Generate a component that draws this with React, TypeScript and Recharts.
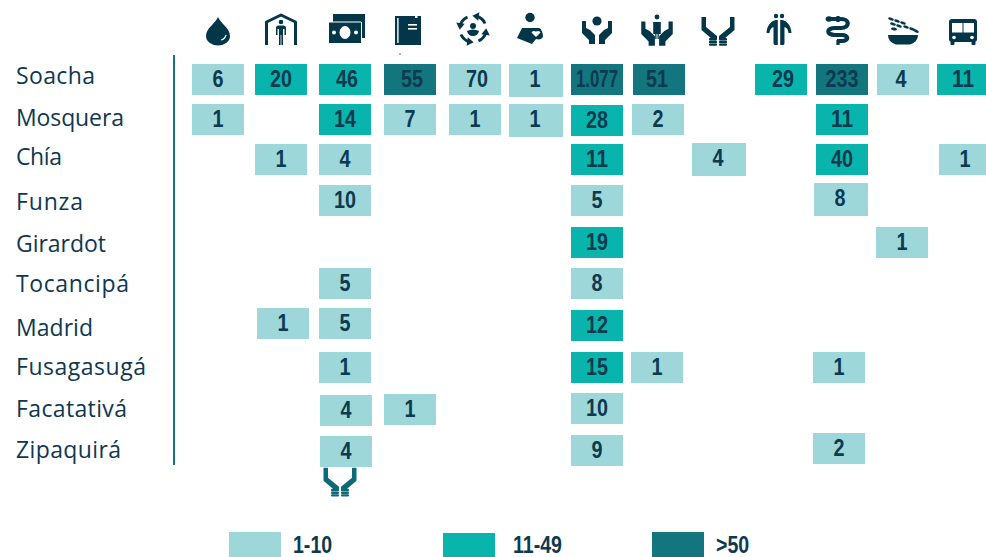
import { Legend, ReferenceDot, Scatter, ScatterChart, XAxis, YAxis } from "recharts";

const ROWS = ["Soacha", "Mosquera", "Chía", "Funza", "Girardot", "Tocancipá", "Madrid", "Fusagasugá", "Facatativá", "Zipaquirá"];
const COLUMNS = ["water", "shelter", "money", "book", "cycle", "mother", "care", "protect", "hands", "people", "health", "food", "bus"];

const SOACHA = [6, 20, 46, 55, 70, 1, 1077, 51, null, 29, 233, 4, 11];
const MOSQUERA = [1, null, 14, 7, 1, 1, 28, 2, null, null, 11, null, null];
const CHIA = [null, 1, 4, null, null, null, 11, null, 4, null, 40, null, 1];
const FUNZA = [null, null, 10, null, null, null, 5, null, null, null, 8, null, null];
const GIRARDOT = [null, null, null, null, null, null, 19, null, null, null, null, 1, null];
const TOCANCIPA = [null, null, 5, null, null, null, 8, null, null, null, null, null, null];
const MADRID = [null, 1, 5, null, null, null, 12, null, null, null, null, null, null];
const FUSAGASUGA = [null, null, 1, null, null, null, 15, 1, null, null, 1, null, null];
const FACATATIVA = [null, null, 4, 1, null, null, 10, null, null, null, null, null, null];
const ZIPAQUIRA = [null, null, 4, null, null, null, 9, null, null, null, 2, null, null];
const VALUES = [SOACHA, MOSQUERA, CHIA, FUNZA, GIRARDOT, TOCANCIPA, MADRID, FUSAGASUGA, FACATATIVA, ZIPAQUIRA];

const LEGEND_LABELS = ["1-10", "11-49", ">50"];
// the source paints Soacha's 70 in the lowest band
const LOW_BAND_EXCEPTIONS = [70];

// hand-placed layout of the source, px away from the even grid
const COLUMN_NUDGE = [0, 1, 3, 6, 9, 8, 7, 7, 4, 5, 4, 3, 1];
const ROW_NUDGE = [0, -1, -2, -2, -1, -1, -2, 1, 2, 3];
const LABEL_BASELINE = [4, 5, 3, 7, 8, 7, 10, 8, 9, 9];
const LABEL_WIDTH = [79, 108, 46, 67, 90, 113, 77, 130, 111, 105];
const CELL_TWEAKS: Record<string, { dx?: number; dy?: number; w?: number; h?: number; tx?: number }> = {
  "0-2": { tx: 2 },
  "0-3": { tx: 2 },
  "0-4": { tx: 2 },
  "0-5": { dx: -1, w: 54, h: 33 },
  "0-7": { tx: -2 },
  "0-9": { tx: 2 },
  "0-11": { tx: -2 },
  "1-5": { dx: -1, w: 54, h: 33 },
  "1-6": { dy: 1 },
  "1-7": { dx: -1 },
  "2-8": { w: 54, h: 33, dy: -1 },
  "2-12": { dx: 2 },
  "3-10": { dx: -2, dy: -2, w: 54, h: 33 },
  "4-11": { dx: -1 },
  "6-1": { dx: 2 },
  "6-6": { dy: 2 },
  "7-7": { dx: -2 },
  "7-10": { dx: -3 },
  "8-2": { dx: 1, dy: 1 },
  "8-6": { dy: -1 },
  "9-2": { dx: 1 },
  "9-6": { dy: -1 },
  "9-10": { dx: -3, dy: -3 },
};

const LIGHT = "#9dd7d9";
const TEAL = "#09b4ac";
const DARK = "#13767f";
const TEXT = "#0c3a4f";
const ICON = "#04364a";
const VALUE_FONT = "'Liberation Sans', sans-serif";

function band(v: number) {
  if (v <= 10 || LOW_BAND_EXCEPTIONS.includes(v)) return 0;
  return v < 50 ? 1 : 2;
}

const cells = VALUES.flatMap((row, y) =>
  row.flatMap((value, x) => (value === null ? [] : [{ x, y, value }]))
);

function fmt(v: number) {
  return v >= 1000 ? `${Math.floor(v / 1000)}.${String(v % 1000).padStart(3, "0")}` : String(v);
}

function Cell({ cx, cy, payload, fill }: any) {
  const t = CELL_TWEAKS[`${payload.y}-${payload.x}`] ?? {};
  const w = t.w ?? 52;
  const h = t.h ?? 31;
  const mid = Math.round(cx) + COLUMN_NUDGE[payload.x] + (t.dx ?? 0);
  const top = Math.round(cy) + ROW_NUDGE[payload.y] - 16 + (t.dy ?? 0);
  const left = mid - 26;
  const label = fmt(payload.value);
  return (
    <g>
      <rect x={left} y={top} width={w} height={h} fill={fill} />
      <text
        x={left + 26 + (t.tx ?? 0)}
        y={top + 23}
        textAnchor="middle"
        fontFamily={VALUE_FONT}
        fontWeight="bold"
        fontSize={23}
        fill={TEXT}
        textLength={payload.value >= 1000 ? 42 : label.length * 11}
        lengthAdjust="spacingAndGlyphs"
      >
        {label}
      </text>
    </g>
  );
}

function Hand({ flip }: { flip?: boolean }) {
  return (
    <path
      transform={flip ? "scale(-1,1)" : undefined}
      d="M-15 -10 L-11 -10 L-11 -3 L-7 -1 L-2 4 L-2 13 L-8 13 L-8 9 L-15 2 Z"
    />
  );
}

function JoinedHands({ color }: { color: string }) {
  const side = "M-16.5 -14 L-12 -14 L-12 -4 L-1 5 L-1 8 L-6 8 L-16.5 -1 Z";
  return (
    <g fill={color}>
      <path d={side} />
      <path d={side} transform="scale(-1,1)" />
      {[7, 9.8, 12.4].map((y) => (
        <g key={y}>
          <rect x={-9} y={y} width={8} height={2.4} rx={1} />
          <rect x={1} y={y} width={8} height={2.4} rx={1} />
        </g>
      ))}
    </g>
  );
}

const ICONS: Record<string, React.ReactNode> = {
  water: (
    <g>
      <path d="M0 -14 C3 -7 12 -3 12 5 A12 9.5 0 0 1 -12 5 C-12 -3 -3 -7 0 -14 Z" />
      <path d="M3 9 Q7 8 8 4" fill="none" stroke="#fff" strokeWidth={1.2} />
    </g>
  ),
  shelter: (
    <g>
      <path d="M-14.5 14 V-9 L0 -16 L14.5 -9 V14" fill="none" stroke={ICON} strokeWidth={3} strokeLinejoin="round" />
      <circle cx={0} cy={-9} r={2.3} />
      <path d="M-5 4 V-3 Q-5 -5.5 -2.5 -5.5 H2.5 Q5 -5.5 5 -3 V4 H3.5 V-2 H2 V14 H0.4 V4 H-0.4 V14 H-2 V-2 H-3.5 V4 Z" />
    </g>
  ),
  money: (
    <g>
      <path d="M-12 -17 H20 V7 H17 V-9 H-12 Z" />
      <rect x={-16} y={-9} width={32} height={21} />
      <path d="M-16 -9 H16" stroke="#fff" strokeWidth={1} />
      <ellipse cx={0} cy={1.5} rx={5.5} ry={6.5} fill="#fff" />
      <circle cx={-11} cy={1.5} r={2} fill="#fff" />
      <circle cx={11} cy={1.5} r={2} fill="#fff" />
    </g>
  ),
  book: (
    <g>
      <path d="M-15 -15 H5 V-13 H7.5 V-15 H11 V14 H-15 Z" />
      <rect x={-12.8} y={-13} width={1.4} height={25} fill="#fff" />
      <rect x={-2} y={-7} width={9} height={1.6} fill="#fff" />
      <rect x={-2} y={-3} width={9} height={1.6} fill="#fff" />
      <rect x={-11} y={22} width={2} height={2} fill="#9db4dc" />
    </g>
  ),
  cycle: (
    <g transform="translate(-2,-2)">
      {[0, 90, 180, 270].map((a) => (
        <g key={a} transform={`rotate(${a})`}>
          <path d="M3 -13 A13.5 13.5 0 0 1 12 -5.5" fill="none" stroke={ICON} strokeWidth={3} />
          <path d="M4 -17.5 L-2.5 -13 L4 -9 Z" transform="rotate(8)" />
        </g>
      ))}
      <circle cx={0} cy={-3} r={3} />
      <path d="M-6 2 Q0 -1 6 2 Q5 7 0 7 Q-5 7 -6 2 Z" />
    </g>
  ),
  mother: (
    <g>
      <circle cx={-6} cy={-13.5} r={4.7} />
      <path d="M-14 -3 H3 C5 -3 7 2 7 5 C7 8 3 9 0 8 L-4 13 L-19 7 Z" />
      <path d="M0 6 L-4.5 1.5 Q-3.5 -1 0 0.5 Q3.5 -1 4.5 1.5 Z" fill="#fff" />
    </g>
  ),
  care: (
    <g>
      <circle cx={0} cy={-10} r={4.6} />
      <Hand />
      <Hand flip />
    </g>
  ),
  protect: (
    <g transform="translate(-2,0)">
      <circle cx={0} cy={-14} r={2.4} />
      <path d="M-3.8 -9 H3.8 V3 H1.8 V8 H0.5 V3 H-0.5 V8 H-1.8 V3 H-3.8 Z" />
      <g transform="translate(0,1) scale(1.05)">
        <Hand />
        <Hand flip />
      </g>
    </g>
  ),
  hands: <JoinedHands color={ICON} />,
  people: (
    <g transform="translate(-2,0)">
      <circle cx={-3} cy={-15} r={2.2} />
      <circle cx={3} cy={-15} r={2.2} />
      <path d="M-12.5 2 C-12 -6 -8 -10 -3 -11 H-1.2 V14 H-4 Q-5.5 14 -5.5 12 V-4 Q-9 -3 -9.5 2 Z" />
      <path d="M12.5 2 C12 -6 8 -10 3 -11 H1.2 V14 H4 Q5.5 14 5.5 12 V-4 Q9 -3 9.5 2 Z" />
    </g>
  ),
  health: (
    <g transform="translate(-4,0)">
      <path
        d="M-9 -12 H3 C12 -12 12 -3 3 -3 H-3 C-12 -3 -12 4 -3 4 H4 C11 4 11 10 4 10 H-1"
        fill="none"
        stroke={ICON}
        strokeWidth={4.2}
      />
      <ellipse cx={-9} cy={-12} rx={3.4} ry={2.8} />
      <path d="M0 -15 V-9 M0 9 V14" stroke={ICON} strokeWidth={3.2} />
    </g>
  ),
  food: (
    <g>
      <path d="M-15 4 H15 Q15 11 7 13.5 H-7 Q-15 11 -15 4 Z" />
      {[
        [-12, -12, 20],
        [-6, -10, 20],
        [0, -8, 20],
        [-10, -7, 15],
        [-4, -5, 20],
        [3, -4, 20],
        [9, -2, 20],
        [-9, -2, 10],
        [13, 0, 25],
      ].map(([x, y, a]) => (
        <ellipse key={`${x}${y}`} cx={x} cy={y} rx={3} ry={1.4} transform={`rotate(${a} ${x} ${y})`} />
      ))}
    </g>
  ),
  bus: (
    <g>
      <rect x={-14} y={-12} width={28} height={23} rx={3} />
      <rect x={-11} y={-8} width={10.5} height={9.5} fill="#fff" />
      <rect x={0.5} y={-8} width={10.5} height={9.5} fill="#fff" />
      <circle cx={-9} cy={6.5} r={1.8} fill="#fff" />
      <circle cx={9} cy={6.5} r={1.8} fill="#fff" />
      <rect x={-12.5} y={10} width={4} height={4} rx={1} />
      <rect x={8.5} y={10} width={4} height={4} rx={1} />
    </g>
  ),
};

function IconTick({ x, payload }: any) {
  return (
    <g transform={`translate(${x + COLUMN_NUDGE[payload.value]},31)`} fill={ICON}>
      {ICONS[COLUMNS[payload.value]]}
    </g>
  );
}

function RowTick({ y, payload }: any) {
  return (
    <text
      x={16}
      y={y + LABEL_BASELINE[payload.value]}
      fontFamily="'Open Sans', sans-serif"
      fontSize={23}
      fill="#0f3850"
      textLength={LABEL_WIDTH[payload.value]}
    >
      {ROWS[payload.value]}
    </text>
  );
}

const LEGEND_SPOTS = [
  { box: 229, text: 293, top: 67 },
  { box: 443, text: 513, top: 68 },
  { box: 652, text: 716, top: 67 },
];

function BandLegend({ payload }: any) {
  return (
    <div style={{ position: "relative", width: 986, height: 92 }}>
      {(payload ?? []).map((item: any, i: number) => (
        <div key={item.value}>
          <div
            style={{ position: "absolute", left: LEGEND_SPOTS[i].box, top: LEGEND_SPOTS[i].top, width: 52, height: 31, background: item.color }}
          />
          <span
            style={{
              position: "absolute",
              left: LEGEND_SPOTS[i].text,
              top: 67,
              fontFamily: VALUE_FONT,
              fontWeight: "bold",
              fontSize: 23,
              lineHeight: "27px",
              color: TEXT,
              transform: "scaleX(0.85)",
              transformOrigin: "left center",
            }}
          >
            {item.value}
          </span>
        </div>
      ))}
    </div>
  );
}

export default function App() {
  return (
    <div style={{ position: "absolute", left: 0, top: 0, width: 986, height: 557, overflow: "hidden", background: "#fff" }}>
      <ScatterChart width={986} height={557} margin={{ top: 0, right: 0, bottom: 0, left: 0 }}>
        <XAxis
          type="number"
          dataKey="x"
          orientation="top"
          height={55}
          domain={[-44 / 62, 768 / 62]}
          ticks={COLUMNS.map((_, i) => i)}
          interval={0}
          axisLine={false}
          tickLine={false}
          tick={IconTick}
        />
        <YAxis
          type="number"
          dataKey="y"
          width={174}
          reversed
          domain={[-25 / 41, 385 / 41]}
          ticks={ROWS.map((_, i) => i)}
          interval={0}
          axisLine={{ stroke: "#17727e", strokeWidth: 2 }}
          tickLine={false}
          tick={RowTick}
        />
        <Legend verticalAlign="bottom" height={92} wrapperStyle={{ left: 0, bottom: 0, width: 986 }} content={BandLegend} />
        {LEGEND_LABELS.map((name, i) => (
          <Scatter
            key={name}
            name={name}
            data={cells.filter((c) => band(c.value) === i)}
            fill={[LIGHT, TEAL, DARK][i]}
            shape={Cell}
            isAnimationActive={false}
          />
        ))}
        <ReferenceDot
          x={2}
          y={9.8}
          ifOverflow="visible"
          shape={({ cx, cy }: any) => (
            <g transform={`translate(${cx - 2},${cy})`}>
              <JoinedHands color="#0f6a78" />
            </g>
          )}
        />
      </ScatterChart>
    </div>
  );
}
